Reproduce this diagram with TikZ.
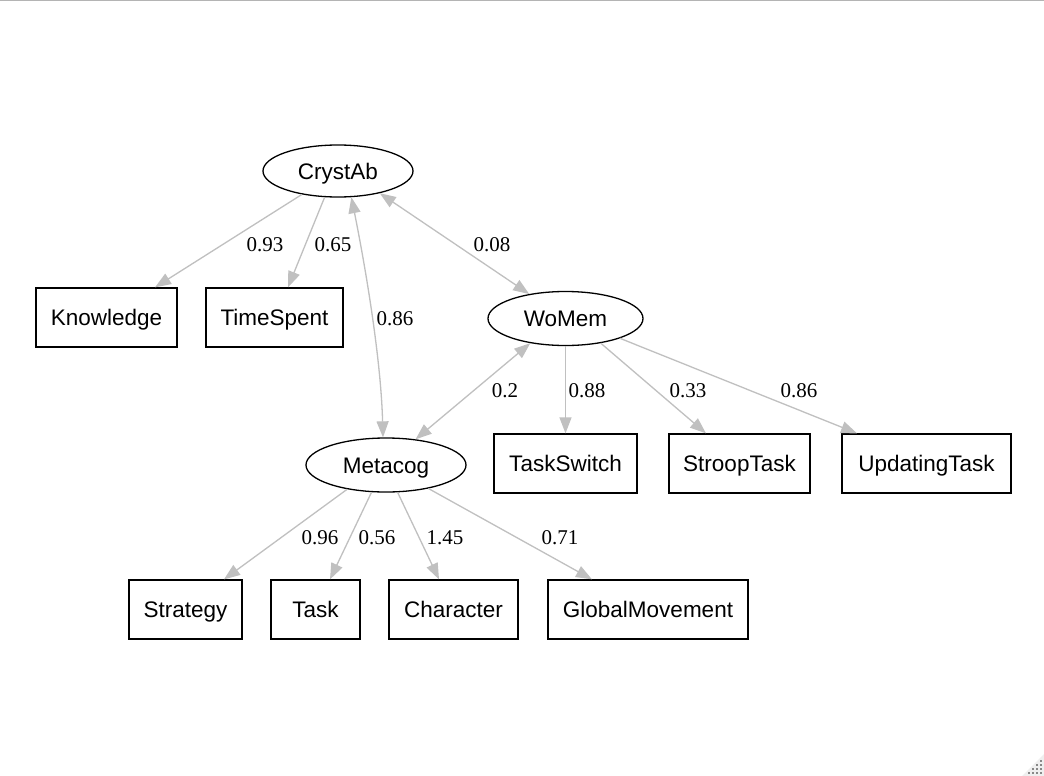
\documentclass[tikz,border=0pt]{standalone}
\usepackage{fontspec}
\setmainfont{Liberation Serif}
\newfontfamily\arialf{Liberation Sans}
\usetikzlibrary{shapes.geometric,arrows.meta}
\definecolor{edgegray}{HTML}{C0C0C0}
\definecolor{topline}{HTML}{B4B4B4}
\definecolor{gripdot}{HTML}{888888}
\definecolor{griptri}{HTML}{EFEFEF}
\begin{document}
\begin{tikzpicture}[x=1pt,y=1pt,
  latent/.style={draw=black, line width=1.3pt, ellipse, inner sep=0pt,
    text height=16pt, text depth=0pt,
    font=\arialf\fontsize{22.5}{26}\selectfont},
  manifest/.style={draw=black, line width=1.3pt, rectangle, inner sep=0pt,
    text height=16pt, text depth=0pt,
    minimum height=59pt, font=\arialf\fontsize{22.5}{26}\selectfont},
  edgeline/.style={draw=edgegray, line width=1.3pt,
    -{Triangle[length=16pt,width=12pt]}},
  twoway/.style={draw=edgegray, line width=1.3pt,
    {Triangle[length=16pt,width=12pt]}-{Triangle[length=16pt,width=12pt]}},
  coef/.style={font=\fontsize{21}{24}\selectfont, inner sep=0pt,
    text height=14pt, text depth=0pt}
]
\useasboundingbox (0,0) rectangle (1044,-776);
\fill[white] (0,0) rectangle (1044,-776);
\draw[topline, line width=1pt] (0,-0.5) -- (1044,-0.5);

% latent variables
\node[latent, minimum width=150pt, minimum height=52pt] (crystab) at (338,-171) {CrystAb};
\node[latent, minimum width=155pt, minimum height=54pt] (womem) at (565.5,-318.5) {WoMem};
\node[latent, minimum width=160pt, minimum height=54pt] (metacog) at (386,-465) {Metacog};

% manifest variables
\node[manifest, minimum width=141pt] (knowledge) at (106.5,-317.5) {Knowledge};
\node[manifest, minimum width=137pt] (timespent) at (274.5,-317.5) {TimeSpent};
\node[manifest, minimum width=143pt] (taskswitch) at (565.5,-463.5) {TaskSwitch};
\node[manifest, minimum width=141pt] (stroop) at (739.5,-463.5) {StroopTask};
\node[manifest, minimum width=169pt] (updating) at (926.5,-463.5) {UpdatingTask};
\node[manifest, minimum width=113pt] (strategy) at (185.5,-609.5) {Strategy};
\node[manifest, minimum width=89pt] (task) at (315.5,-609.5) {Task};
\node[manifest, minimum width=129pt] (character) at (453.5,-609.5) {Character};
\node[manifest, minimum width=200pt] (globalmov) at (648,-609.5) {GlobalMovement};

% loadings
\draw[edgeline] (crystab.213) -- ([xshift=48.5pt]knowledge.north);
\draw[edgeline] (crystab.243) -- ([xshift=13.5pt]timespent.north);
\draw[edgeline] (womem.south) -- (taskswitch.north);
\draw[edgeline] (womem.325) -- ([xshift=-33.5pt]stroop.north);
\draw[edgeline] (womem.340) -- ([xshift=-69.5pt]updating.north);
\draw[edgeline] (metacog.212) -- ([xshift=38.5pt]strategy.north);
\draw[edgeline] (metacog.242) -- ([xshift=14.5pt]task.north);
\draw[edgeline] (metacog.293) -- ([xshift=-14.5pt]character.north);
\draw[edgeline] (metacog.331) -- ([xshift=-56pt]globalmov.north);

% covariances
\draw[twoway] (crystab.297) .. controls (366,-270) and (381,-360) .. ([xshift=-3pt]metacog.north);
\draw[twoway] (crystab.332) -- (womem.146);
\draw[twoway] (womem.215) -- (metacog.41);

% coefficients
\node[coef] (c1) at (265,-244) {0.93};
\node[coef] (c2) at (333,-244) {0.65};
\node[coef] (c3) at (395,-318) {0.86};
\node[coef] (c4) at (492,-244) {0.08};
\node[coef] (c5) at (505,-390) {0.2};
\node[coef] (c6) at (587,-390) {0.88};
\node[coef] (c7) at (688,-390) {0.33};
\node[coef] (c8) at (799,-390) {0.86};
\node[coef] (c9) at (320,-537) {0.96};
\node[coef] (c10) at (377,-537) {0.56};
\node[coef] (c11) at (445,-537) {1.45};
\node[coef] (c12) at (560,-537) {0.71};

% window resize grip
\fill[griptri] (1022,-776) -- (1044,-754) -- (1044,-776) -- cycle;
\foreach \px/\py in {1028/772,1032/772,1036/772,1040/772,1032/768,1036/768,1040/768,1036/764,1040/764,1040/760}
  \fill[gripdot] (\px,-\py) rectangle ++(2.2,-2.2);
\end{tikzpicture}
\end{document}
